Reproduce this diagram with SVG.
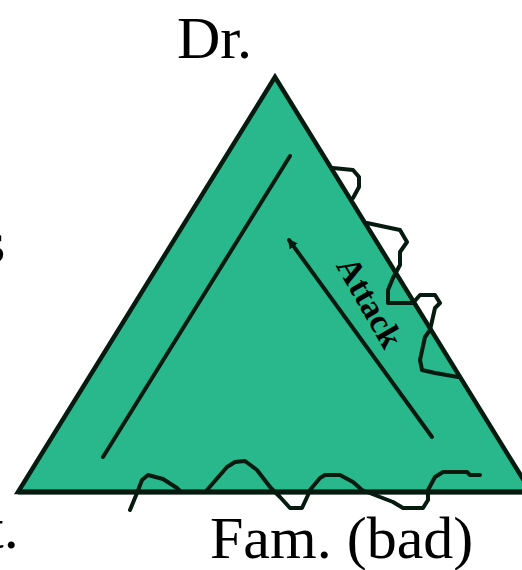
<svg xmlns="http://www.w3.org/2000/svg" width="522" height="570" viewBox="0 0 522 570">
<style>
.lbl{font-family:"Liberation Serif","Times New Roman",serif;font-size:60px;fill:#000}
.edge{fill:none;stroke:#061a10;stroke-width:4;stroke-linejoin:round;stroke-linecap:round}
.wave{fill:none;stroke:#061a10;stroke-width:4;stroke-linejoin:round;stroke-linecap:round}
</style>
<defs>
<marker id="ah" markerWidth="10" markerHeight="10" refX="8" refY="5" orient="auto" markerUnits="userSpaceOnUse" viewBox="0 0 10 10">
<path d="M0,0 L10,5 L0,10 z" fill="#061a10"/>
</marker>
</defs>
<rect width="522" height="570" fill="#fff"/>
<g id="triangle">
<polygon points="275,77 18,492 531,492" fill="#28b88c" stroke="#061a10" stroke-width="4.5" stroke-linejoin="miter"/>
<line x1="18" y1="492" x2="522" y2="492" stroke="#061a10" stroke-width="5"/>
</g>
<g id="connectors">
<line class="edge" x1="290" y1="156" x2="103" y2="457"/>
<line class="edge" x1="432" y1="437" x2="289" y2="240" marker-end="url(#ah)"/>
<path class="wave" d="M333,168 L353,170 L359,177 L359,187 L353,198"/>
<path class="wave" d="M367,223 L400,230 L407,242 L400,252 L400,265 L393,278 L388,290 L388,303 L413,303 L420,295 L435,295 L440,303 L435,308 L430,330 L425,337 L420,360 L422,370 L435,373 L458,377"/>
<path class="wave" d="M130,510 L137,493 L142,480 L148,475 L163,479 L177,488 L181,492"/>
<path class="wave" d="M207,490 L227,467 L235,462 L245,461 L257,470 L270,487 L280,497 L290,508 L302,508 L308,495 L310,490 L320,478 L325,475 L340,475 L353,482 L362,490 L380,497 L393,502 L403,508 L423,508 L428,500 L428,490 L435,477 L443,472 L467,472 L470,475 L480,475"/>
</g>
<g id="attack-label">
<text class="lbl" transform="translate(360,308) rotate(60)" text-anchor="middle" font-weight="bold" style="font-size:34px">Attack</text>
</g>
<g id="label-dr"><text class="lbl" x="177" y="58">Dr.</text></g>
<g id="label-fam"><text class="lbl" x="210" y="558">Fam. (bad)</text></g>
<g id="label-left-s"><text class="lbl" x="-18" y="262">s</text></g>
<g id="label-left-t"><text class="lbl" x="-13" y="548">t.</text></g>
</svg>
